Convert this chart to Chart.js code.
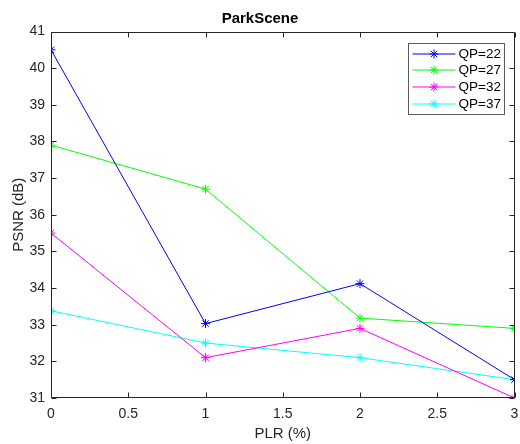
<!DOCTYPE html>
<html>
<head>
<meta charset="utf-8">
<script src="https://cdn.jsdelivr.net/npm/chart.js@4/dist/chart.umd.min.js"></script>
<style>
  html, body { margin: 0; padding: 0; background: #fff; }
  #wrap { width: 520px; height: 444px; }
</style>
</head>
<body>
<div id="wrap"><canvas id="c" width="520" height="444"></canvas></div>
<script>
// Packet loss rate (%) on the x axis
const plr = [0, 1, 2, 3];

// PSNR (dB) per quantisation parameter
const qp22 = [40.5, 33.03, 34.12, 31.5];
const qp27 = [37.9, 36.7, 33.18, 32.9];
const qp32 = [35.5, 32.1, 32.9, 31.0];
const qp37 = [33.38, 32.5, 32.1, 31.5];

const seriesLabels = ['QP=22', 'QP=27', 'QP=32', 'QP=37'];
const seriesColors = ['#0000ff', '#00ff00', '#ff00ff', '#00ffff'];
const seriesValues = [qp22, qp27, qp32, qp37];

const chartTitle = 'ParkScene';
const xTitle = 'PLR (%)';
const yTitle = 'PSNR (dB)';

const FONT = "'Liberation Sans', Arial, Helvetica, sans-serif";
const INK = '#262626';

const datasets = seriesValues.map((vals, i) => ({
  label: seriesLabels[i],
  data: plr.map((x, j) => ({ x: x, y: vals[j] })),
  borderColor: seriesColors[i],
  backgroundColor: seriesColors[i],
  borderWidth: 1,
  pointStyle: 'star',
  pointRadius: 4.5,
  pointBorderWidth: 1,
  pointBorderColor: seriesColors[i],
  tension: 0,
  fill: false
}));

// Box around the plot with inward ticks on all four sides
const axesBox = {
  id: 'axesBox',
  afterDatasetsDraw(chart) {
    const { ctx, chartArea: a, scales } = chart;
    const L = Math.round(a.left) + 0.5, R = Math.round(a.right) - 0.5;
    const T = Math.round(a.top) + 0.5, B = Math.round(a.bottom) - 0.5;
    const len = 5;
    ctx.save();
    ctx.strokeStyle = INK;
    ctx.lineWidth = 1;
    ctx.beginPath();
    ctx.rect(L, T, R - L, B - T);
    scales.x.ticks.forEach(t => {
      const px = Math.round(scales.x.getPixelForValue(t.value)) + 0.5;
      ctx.moveTo(px, B); ctx.lineTo(px, B - len);
      ctx.moveTo(px, T); ctx.lineTo(px, T + len);
    });
    scales.y.ticks.forEach(t => {
      const py = Math.round(scales.y.getPixelForValue(t.value)) + 0.5;
      ctx.moveTo(L, py); ctx.lineTo(L + len, py);
      ctx.moveTo(R, py); ctx.lineTo(R - len, py);
    });
    ctx.stroke();
    ctx.restore();
  }
};

// Boxed legend in the upper right corner of the plot
const boxLegend = {
  id: 'boxLegend',
  afterDraw(chart) {
    const { ctx, chartArea: a } = chart;
    const ds = chart.data.datasets;
    const right = a.right - 11, top = a.top + 11;
    const w = 96, rowH = 16.7, h = 71;
    const left = right - w;
    ctx.save();
    ctx.fillStyle = '#fff';
    ctx.fillRect(left, top, w, h);
    ctx.strokeStyle = '#5a5a5a';
    ctx.lineWidth = 1;
    ctx.strokeRect(Math.round(left) + 0.5, Math.round(top) + 0.5, w, h);
    ctx.font = '13.5px ' + FONT;
    ctx.textBaseline = 'middle';
    ds.forEach((d, i) => {
      const y = Math.round(top + 11 + i * rowH);
      const x0 = left + 5, x1 = left + 48;
      ctx.strokeStyle = d.borderColor;
      ctx.lineWidth = 1;
      ctx.beginPath();
      ctx.moveTo(x0, y); ctx.lineTo(x1, y);
      ctx.stroke();
      // asterisk marker
      const cx = (x0 + x1) / 2, r = 4.5;
      ctx.beginPath();
      for (let k = 0; k < 4; k++) {
        const ang = k * Math.PI / 4;
        ctx.moveTo(cx - r * Math.cos(ang), y - r * Math.sin(ang));
        ctx.lineTo(cx + r * Math.cos(ang), y + r * Math.sin(ang));
      }
      ctx.stroke();
      ctx.fillStyle = '#000';
      ctx.textAlign = 'left';
      ctx.fillText(d.label, left + 51, y + 0.5);
    });
    ctx.restore();
  }
};

new Chart(document.getElementById('c'), {
  type: 'line',
  data: { datasets },
  plugins: [axesBox, boxLegend],
  options: {
    responsive: false,
    animation: false,
    devicePixelRatio: 1,
    layout: { padding: { left: 0, right: 0, top: 0, bottom: 0 } },
    plugins: {
      legend: { display: false },
      tooltip: { enabled: false },
      title: {
        display: true,
        text: chartTitle,
        color: '#000',
        font: { family: FONT, size: 15, weight: 'bold', lineHeight: 1.2 },
        padding: { top: 10, bottom: 3.5 }
      }
    },
    scales: {
      x: {
        type: 'linear',
        min: 0, max: 3,
        ticks: {
          stepSize: 0.5,
          color: INK,
          font: { family: FONT, size: 14 },
          padding: 8,
          maxRotation: 0,
          callback: v => String(Number(v))
        },
        grid: { display: false, drawTicks: false },
        border: { display: false },
        title: {
          display: true,
          text: xTitle,
          color: INK,
          font: { family: FONT, size: 15, lineHeight: 1.2 },
          padding: { top: 0, bottom: 1 }
        },
        afterFit(scale) {
          scale.height = 46;
          scale.paddingRight = 4;
        }
      },
      y: {
        type: 'linear',
        min: 31, max: 41,
        ticks: {
          stepSize: 1,
          color: INK,
          font: { family: FONT, size: 14 },
          padding: 6,
          callback: v => String(Number(v))
        },
        grid: { display: false, drawTicks: false },
        border: { display: false },
        title: {
          display: true,
          text: yTitle,
          color: INK,
          font: { family: FONT, size: 15, lineHeight: 1.2 },
          padding: { top: 10, bottom: 0 }
        },
        afterFit(scale) { scale.width = 51; }
      }
    }
  }
});
</script>
</body>
</html>
